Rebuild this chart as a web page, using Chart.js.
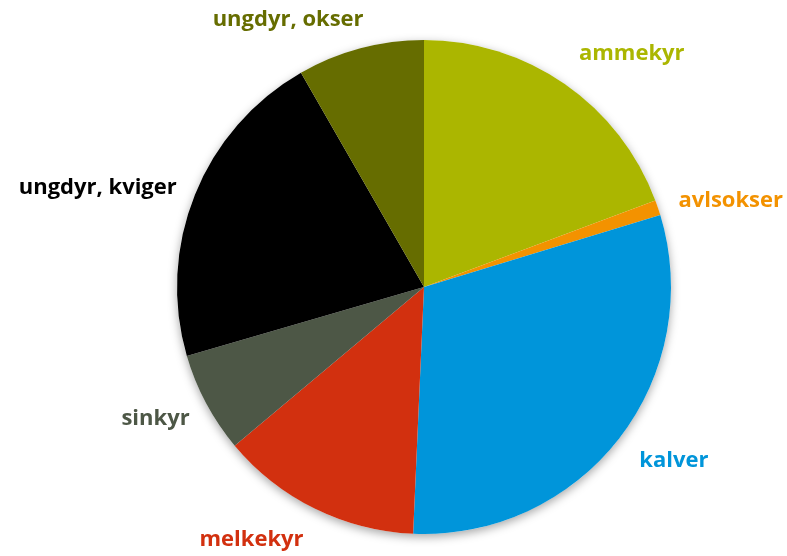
<!DOCTYPE html>
<html>
<head>
<meta charset="utf-8">
<script src="https://cdn.jsdelivr.net/npm/chart.js@4.4.1/dist/chart.umd.min.js"></script>
<style>
  html, body { margin: 0; padding: 0; background: #fff; }
  #wrap { width: 787px; height: 556px; }
</style>
</head>
<body>
<div id="wrap"><canvas id="kake"></canvas></div>
<script>
// kategorier og andeler (%), lest av figuren
const kategorier = ['ammekyr', 'avlsokser', 'kalver', 'melkekyr', 'sinkyr', 'ungdyr, kviger', 'ungdyr, okser'];
const andeler = [19.3, 1.0, 30.4, 13.2, 6.6, 21.2, 8.3];
const farger = ['#abb600', '#f39200', '#0095da', '#d2300f', '#4d5746', '#000000', '#666d00'];

// justering av etikettene: [vinkel i grader, avstand utenfor kanten]
const etikettJustering = [[7, 21], [3, 18], [-3, 22], [8, 20], [2, 16], [-5, 15], [-12, 8]];

// skygge under kaka
const skygge = {
  id: 'skygge',
  beforeDatasetsDraw(chart) {
    const arc = chart.getDatasetMeta(0).data[0];
    if (!arc) return;
    const ctx = chart.ctx;
    ctx.save();
    ctx.shadowColor = 'rgba(0,0,0,0.35)';
    ctx.shadowBlur = 10;
    ctx.shadowOffsetY = 3;
    ctx.fillStyle = '#fff';
    ctx.beginPath();
    ctx.arc(arc.x, arc.y, arc.outerRadius, 0, Math.PI * 2);
    ctx.fill();
    ctx.restore();
  }
};

// etiketter utenfor kaka, i samme farge som bitene
const etiketter = {
  id: 'etiketter',
  afterDatasetsDraw(chart) {
    const ctx = chart.ctx;
    ctx.save();
    ctx.font = 'bold 22px "Open Sans", Lato, sans-serif';
    ctx.textAlign = 'center';
    ctx.textBaseline = 'middle';
    chart.getDatasetMeta(0).data.forEach((arc, i) => {
      const [dv, k] = etikettJustering[i];
      const mid = (arc.startAngle + arc.endAngle) / 2 + dv * Math.PI / 180;
      const hw = ctx.measureText(kategorier[i]).width / 2;
      const hh = 12;
      const cx = Math.cos(mid), sy = Math.sin(mid);
      const d = arc.outerRadius + k + Math.abs(hw * cx) + Math.abs(hh * sy);
      ctx.fillStyle = farger[i];
      ctx.fillText(kategorier[i], arc.x + d * cx, arc.y + d * sy);
    });
    ctx.restore();
  }
};

new Chart(document.getElementById('kake'), {
  type: 'pie',
  data: {
    labels: kategorier,
    datasets: [{
      data: andeler,
      backgroundColor: farger,
      borderWidth: 0
    }]
  },
  options: {
    responsive: true,
    maintainAspectRatio: false,
    animation: false,
    layout: { padding: { left: 177, right: 116, top: 40, bottom: 22 } },
    plugins: {
      legend: { display: false },
      tooltip: { enabled: false }
    }
  },
  plugins: [skygge, etiketter]
});
</script>
</body>
</html>
